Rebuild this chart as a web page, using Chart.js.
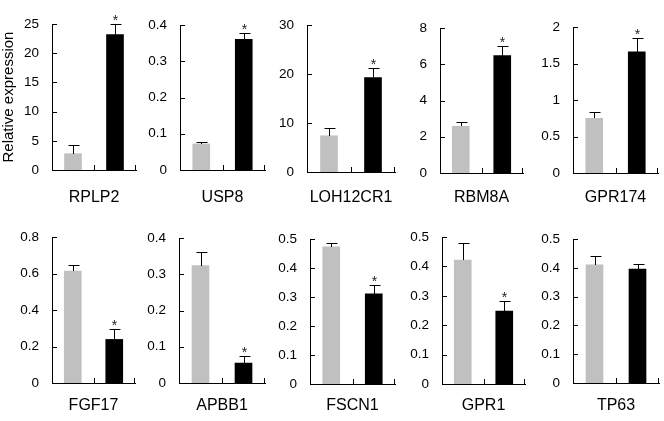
<!DOCTYPE html>
<html>
<head>
<meta charset="utf-8">
<script src="https://cdn.jsdelivr.net/npm/chart.js@4"></script>
<style>
  html, body { margin: 0; padding: 0; background: #fff; }
  #board { position: relative; width: 664px; height: 421px; overflow: hidden; background: #fff; }
  #board canvas { position: absolute; }
</style>
</head>
<body>
<div id="board"></div>
<script>
// ---------- data ----------
const genes = ['RPLP2', 'USP8', 'LOH12CR1', 'RBM8A', 'GPR174', 'FGF17', 'APBB1', 'FSCN1', 'GPR1', 'TP63'];
const groups = ['control', 'sample'];
const grayValues = [2.8, 0.072, 7.4, 2.58, 0.75, 0.614, 0.324, 0.473, 0.422, 0.411];
const grayErrors = [1.4, 0.006, 1.5, 0.21, 0.085, 0.033, 0.039, 0.014, 0.059, 0.029];
const blackValues = [23.2, 0.361, 19.3, 6.48, 1.66, 0.239, 0.055, 0.311, 0.248, 0.396];
const blackErrors = [1.9, 0.018, 1.9, 0.55, 0.19, 0.055, 0.019, 0.032, 0.034, 0.019];
const significant = [true, true, true, true, true, true, true, true, true, false];
const axisMax = [25, 0.4, 30, 8, 2, 0.8, 0.4, 0.5, 0.5, 0.5];
const axisStep = [5, 0.1, 10, 2, 0.5, 0.2, 0.1, 0.1, 0.1, 0.1];
const yTitle = 'Relative expression';

// ---------- layout : pixel frame of every panel ----------
const frames = [
  { axis: 52, end: 136, top: 15, zero: 170, label: 197 },
  { axis: 180, end: 265, top: 16, zero: 170, label: 197 },
  { axis: 307, end: 395, top: 16, zero: 172, label: 197 },
  { axis: 440, end: 523, top: 19, zero: 173, label: 197 },
  { axis: 573, end: 658, top: 18, zero: 173, label: 197 },
  { axis: 52, end: 135, top: 228, zero: 383, label: 405 },
  { axis: 179, end: 265, top: 229, zero: 383, label: 405 },
  { axis: 310, end: 395, top: 230, zero: 384, label: 405 },
  { axis: 442, end: 525, top: 228, zero: 384, label: 405 },
  { axis: 573, end: 659, top: 230, zero: 383, label: 405 },
];

const GRAY = '#c0c0c0';
const BLACK = '#000000';
const FONT = "'Liberation Sans', Arial, sans-serif";
const Y_WIDTH = 52;

// 오차 막대와 별표
const errorBars = {
  id: 'errorBars',
  afterDatasetsDraw(chart, args, opts) {
    const ctx = chart.ctx;
    const y = chart.scales.y;
    const bars = chart.getDatasetMeta(0).data;
    ctx.save();
    ctx.strokeStyle = '#000';
    ctx.lineWidth = 1;
    bars.forEach((bar, i) => {
      const value = chart.data.datasets[0].data[i];
      const top = Math.round(y.getPixelForValue(value + opts.errors[i]));
      const x = Math.round(bar.x) + 0.5;
      ctx.beginPath();
      ctx.moveTo(x, Math.round(bar.y));
      ctx.lineTo(x, top + 0.5);
      ctx.moveTo(x - 5, top + 0.5);
      ctx.lineTo(x + 6, top + 0.5);
      ctx.stroke();
      if (i === 1 && opts.star) {
        ctx.fillStyle = '#222';
        ctx.font = '14px ' + FONT;
        ctx.textAlign = 'center';
        ctx.textBaseline = 'alphabetic';
        ctx.fillText('*', x, top + 1);
      }
    });
    ctx.restore();
  },
};

// 안쪽으로 향하는 눈금
const insideTicks = {
  id: 'insideTicks',
  afterDraw(chart) {
    const ctx = chart.ctx;
    const { left, right, bottom } = chart.chartArea;
    const y = chart.scales.y;
    const x = chart.scales.x;
    ctx.save();
    ctx.strokeStyle = '#000';
    ctx.lineWidth = 1;
    ctx.beginPath();
    y.ticks.forEach((t) => {
      const py = Math.round(y.getPixelForValue(t.value)) + 0.5;
      ctx.moveTo(left, py);
      ctx.lineTo(left + 5, py);
    });
    const mid = Math.round((x.getPixelForValue(0) + x.getPixelForValue(1)) / 2) + 0.5;
    [mid, Math.round(right) - 0.5].forEach((px) => {
      ctx.moveTo(px, bottom);
      ctx.lineTo(px, bottom - 5);
    });
    ctx.stroke();
    ctx.restore();
  },
};

// ---------- chart ----------
function createPanel(i) {
  const f = frames[i];
  const canvasTop = f.top - 12;
  const canvasLeft = f.axis - Y_WIDTH;
  const width = f.end - f.axis + Y_WIDTH + 4;
  const height = f.label + 10 - canvasTop;

  const canvas = document.createElement('canvas');
  canvas.width = width;
  canvas.height = height;
  canvas.style.left = canvasLeft + 'px';
  canvas.style.top = canvasTop + 'px';
  document.getElementById('board').appendChild(canvas);

  const data = {
    labels: groups,
    datasets: [
      {
        data: [grayValues[i], blackValues[i]],
        backgroundColor: [GRAY, BLACK],
        borderWidth: 0,
        barThickness: 17,
      },
    ],
  };

  const config = {
    type: 'bar',
    data: data,
    options: {
      responsive: false,
      animation: false,
      devicePixelRatio: 1,
      layout: { padding: { top: 12, right: 4, left: 0, bottom: 0 } },
      plugins: {
        legend: { display: false },
        tooltip: { enabled: false },
        errorBars: { errors: [grayErrors[i], blackErrors[i]], star: significant[i] },
      },
      scales: {
        x: {
          grid: { display: false, drawTicks: false },
          border: { display: true, color: '#000', width: 1 },
          ticks: { display: false },
          title: {
            display: true,
            text: genes[i],
            color: '#000',
            font: { family: FONT, size: 16, lineHeight: 1.2 },
            padding: 0,
          },
          afterFit: (scale) => {
            scale.height = height - (f.zero - canvasTop);
          },
        },
        y: {
          min: 0,
          max: axisMax[i],
          grid: { display: false, drawTicks: false },
          border: { display: true, color: '#000', width: 1 },
          ticks: {
            stepSize: axisStep[i],
            color: '#000',
            padding: 13,
            font: { family: FONT, size: 13.5 },
            // 1.0 -> 1 처럼 뒤의 0 제거
            callback: (v) => String(+v.toFixed(3)),
          },
          title: {
            display: i === 0,
            text: yTitle,
            color: '#000',
            font: { family: FONT, size: 15, lineHeight: 1.2 },
            padding: 0,
          },
          afterFit: (scale) => {
            scale.width = Y_WIDTH;
          },
        },
      },
    },
    plugins: [errorBars, insideTicks],
  };

  return new Chart(canvas, config);
}

genes.forEach((g, i) => createPanel(i));
</script>
</body>
</html>
